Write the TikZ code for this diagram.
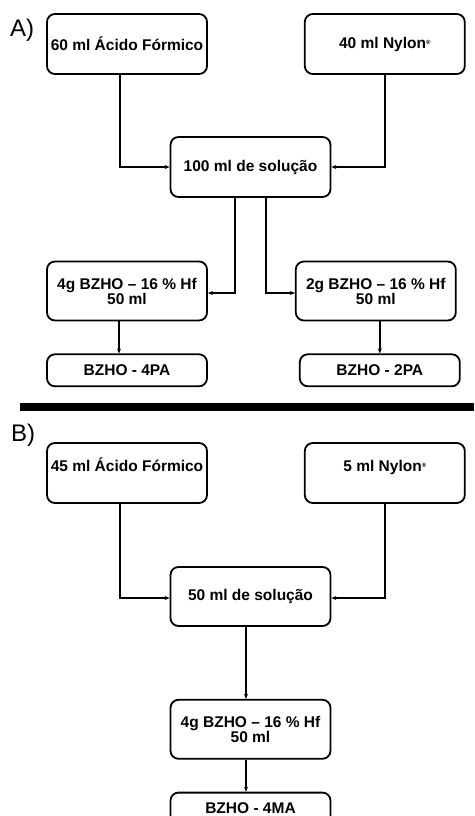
\documentclass[tikz,border=0pt]{standalone}
\usepackage{fontspec}
\setmainfont{Liberation Sans}
\usetikzlibrary{arrows.meta,positioning}
\newcommand{\nylonmark}{{\fontsize{6}{6}\selectfont\raisebox{4pt}{®}}}

\begin{document}
\begin{tikzpicture}[
  x=1pt, y=1pt,
  font=\bfseries\fontsize{15.5}{15}\selectfont,
  box/.style={draw, line width=1.8pt, rounded corners=8pt, align=center,
    minimum width=160pt, minimum height=60pt, inner sep=0pt},
  res/.style={box, minimum height=32pt},
  high/.style={text height=11pt, text depth=14pt},
  arr/.style={-{Stealth[length=5pt,width=4pt]}, line width=2pt},
  tag/.style={font=\fontsize{24}{24}\selectfont},
  sep/.style={line width=8pt},
]
\useasboundingbox (0,0) rectangle (474,-816);
\node[tag] (labA) at (22,-30) {A)};
\node[box] (acidoA) at (127,-44) {60 ml Ácido Fórmico};
\node[box, right=96pt of acidoA] (nylonA) {40 ml Nylon\nylonmark};
\node[box] (solA) at (250.5,-167) {100 ml de solução};
\node[box, minimum height=59pt] (quatroA) at (127,-291) {4g BZHO – 16 \% Hf\\50 ml};
\node[box, minimum height=59pt, right=87pt of quatroA] (doisA) {2g BZHO – 16 \% Hf\\50 ml};
\node[res, below=32pt of quatroA] (pa4) {BZHO - 4PA};
\node[res, below=32pt of doisA, xshift=4pt] (pa2) {BZHO - 2PA};
\draw[arr] ([xshift=-7pt]acidoA.south) |- (solA.west);
\draw[arr] (nylonA.south) |- (solA.east);
\draw[arr] ([xshift=-15.5pt]solA.south) |- ([yshift=-2pt]quatroA.east);
\draw[arr] ([xshift=15.5pt]solA.south) |- ([yshift=-2pt]doisA.west);
\draw[arr] ([xshift=-8pt]quatroA.south) -- ([xshift=-8pt]pa4.north);
\draw[arr] (doisA.south -| pa2.north) -- (pa2.north);
\draw[sep] (20,-407) -- (474,-407);
\node[tag] (labB) at (23,-435) {B)};
\node[box, high] (acidoB) at (127,-473) {45 ml Ácido Fórmico};
\node[box, high, right=96pt of acidoB] (nylonB) {5 ml Nylon\nylonmark};
\node[box, minimum height=59pt] (solB) at (250.5,-596.5) {50 ml de solução};
\node[box, minimum height=59pt, below=72pt of solB] (quatroB) {4g BZHO – 16 \% Hf\\50 ml};
\node[res, below=32pt of quatroB] (ma4) {BZHO - 4MA};
\draw[arr] ([xshift=-7pt]acidoB.south) |- ([yshift=-1.5pt]solB.west);
\draw[arr] (nylonB.south) |- ([yshift=-1.5pt]solB.east);
\draw[arr] ([xshift=-4.5pt]solB.south) -- ([xshift=-4.5pt]quatroB.north);
\draw[arr] ([xshift=-4.5pt]quatroB.south) -- ([xshift=-4.5pt]ma4.north);
\end{tikzpicture}
\end{document}
